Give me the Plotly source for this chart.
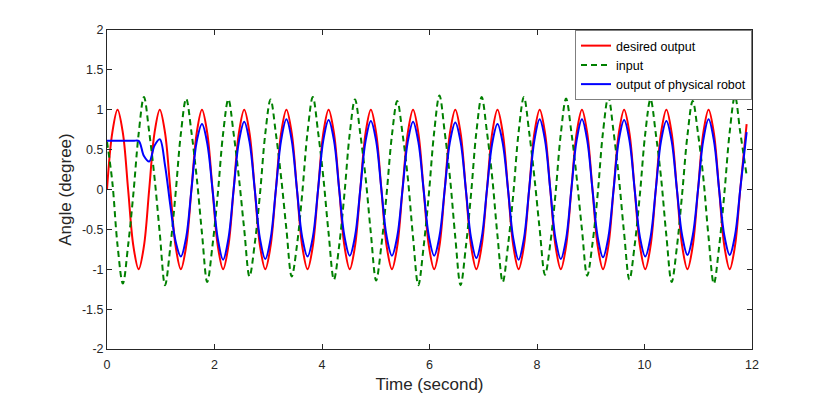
import plotly.graph_objects as go

# sample times (s)
t = [0, 0.098, 0.196, 0.295, 0.393, 0.491, 0.589, 0.687, 0.785, 0.884,
     0.982, 1.080, 1.178, 1.276, 1.374, 1.473, 1.571, 1.669, 1.767, 1.865,
     1.963, 2.062, 2.160, 2.258, 2.356, 2.454, 2.553, 2.651, 2.749, 2.847,
     2.945, 3.043, 3.142, 3.240, 3.338, 3.436, 3.534, 3.632, 3.731, 3.829,
     3.927, 4.025, 4.123, 4.222, 4.320, 4.418, 4.516, 4.614, 4.712, 4.811,
     4.909, 5.007, 5.105, 5.203, 5.301, 5.400, 5.498, 5.596, 5.694, 5.792,
     5.890, 5.989, 6.087, 6.185, 6.283, 6.381, 6.480, 6.578, 6.676, 6.774,
     6.872, 6.970, 7.069, 7.167, 7.265, 7.363, 7.461, 7.560, 7.658, 7.756,
     7.854, 7.952, 8.050, 8.149, 8.247, 8.345, 8.443, 8.541, 8.639, 8.738,
     8.836, 8.934, 9.032, 9.130, 9.228, 9.327, 9.425, 9.523, 9.621, 9.719,
     9.817, 9.916, 10.014, 10.112, 10.210, 10.308, 10.407, 10.505, 10.603, 10.701,
     10.799, 10.897, 10.996, 11.094, 11.192, 11.290, 11.388, 11.486, 11.585, 11.683,
     11.781, 11.900]

desired = [0, 0.71, 1, 0.71, 0, -0.71, -1, -0.71, 0, 0.71, 1, 0.71, 0, -0.71, -1, -0.71,
           0, 0.71, 1, 0.71, 0, -0.71, -1, -0.71, 0, 0.71, 1, 0.71, 0, -0.71, -1, -0.71,
           0, 0.71, 1, 0.71, 0, -0.71, -1, -0.71, 0, 0.71, 1, 0.71, 0, -0.71, -1, -0.71,
           0, 0.71, 1, 0.71, 0, -0.71, -1, -0.71, 0, 0.71, 1, 0.71, 0, -0.71, -1, -0.71,
           0, 0.71, 1, 0.71, 0, -0.71, -1, -0.71, 0, 0.71, 1, 0.71, 0, -0.71, -1, -0.71,
           0, 0.71, 1, 0.71, 0, -0.71, -1, -0.71, 0, 0.71, 1, 0.71, 0, -0.71, -1, -0.71,
           0, 0.71, 1, 0.71, 0, -0.71, -1, -0.71, 0, 0.71, 1, 0.71, 0, -0.71, -1, -0.71,
           0, 0.71, 1, 0.71, 0, -0.71, -1, -0.71, 0, 0.82]

inp = [0.6, 0.1, -0.7, -1.18, -0.7, -0.05, 0.7, 1.16,
       0.72, 0.15, -0.55, -1.2, -0.72, -0.05, 0.7, 1.14,
       0.72, 0.15, -0.55, -1.16, -0.7, -0.05, 0.7, 1.13,
       0.7, 0.15, -0.5, -1.09, -0.68, -0.05, 0.7, 1.13,
       0.7, 0.15, -0.5, -1.09, -0.7, -0.05, 0.72, 1.16,
       0.72, 0.15, -0.55, -1.13, -0.7, -0.05, 0.7, 1.13,
       0.7, 0.15, -0.55, -1.14, -0.7, -0.05, 0.68, 1.11,
       0.7, 0.15, -0.6, -1.2, -0.72, -0.05, 0.72, 1.18,
       0.72, 0.15, -0.6, -1.2, -0.72, -0.05, 0.72, 1.16,
       0.72, 0.15, -0.58, -1.16, -0.7, -0.05, 0.72, 1.16,
       0.72, 0.15, -0.5, -1.07, -0.68, -0.05, 0.7, 1.14,
       0.72, 0.15, -0.5, -1.08, -0.68, -0.05, 0.72, 1.16,
       0.72, 0.15, -0.55, -1.13, -0.7, -0.05, 0.7, 1.13,
       0.7, 0.15, -0.58, -1.16, -0.72, -0.05, 0.68, 1.11,
       0.7, 0.15, -0.6, -1.18, -0.72, -0.05, 0.72, 1.17,
       0.72, 0.18]

robot = [0.61, 0.61, 0.61, 0.61, 0.61, 0.61, 0.61, 0.42,
         0.35, 0.55, 0.63, 0.3, -0.2, -0.65, -0.84, -0.6,
         0, 0.6, 0.82, 0.58, 0, -0.62, -0.88, -0.62,
         0, 0.6, 0.85, 0.6, 0, -0.62, -0.87, -0.62,
         0, 0.62, 0.88, 0.62, 0, -0.6, -0.84, -0.6,
         0, 0.62, 0.87, 0.62, 0, -0.59, -0.83, -0.59,
         0, 0.61, 0.86, 0.61, 0, -0.59, -0.83, -0.59,
         0, 0.6, 0.85, 0.6, 0, -0.59, -0.83, -0.59,
         0, 0.6, 0.84, 0.6, 0, -0.61, -0.86, -0.61,
         0, 0.58, 0.82, 0.58, 0, -0.62, -0.88, -0.62,
         0, 0.62, 0.88, 0.62, 0, -0.62, -0.87, -0.62,
         0, 0.62, 0.88, 0.62, 0, -0.6, -0.85, -0.6,
         0, 0.62, 0.87, 0.62, 0, -0.6, -0.84, -0.6,
         0, 0.61, 0.86, 0.61, 0, -0.58, -0.82, -0.58,
         0, 0.62, 0.88, 0.62, 0, -0.58, -0.82, -0.58,
         0, 0.72]

y_ticks = [-2, -1.5, -1, -0.5, 0, 0.5, 1, 1.5, 2]
y_labels = ['-2', '-1.5', '-1', '-0.5', '0', '0.5', '1', '1.5', '2']
x_ticks = [0, 2, 4, 6, 8, 10, 12]

fig = go.Figure()
fig.add_trace(go.Scatter(x=t, y=desired, name='desired output', mode='lines',
                         line=dict(color='#ff0000', width=2, shape='spline', smoothing=1)))
fig.add_trace(go.Scatter(x=t, y=inp, name='input', mode='lines',
                         line=dict(color='#008000', width=2, dash='6px,4px',
                                   shape='spline', smoothing=1)))
fig.add_trace(go.Scatter(x=t, y=robot, name='output of physical robot', mode='lines',
                         line=dict(color='#0000ff', width=2, shape='spline', smoothing=1)))

axis_common = dict(showline=True, linecolor='#262626', linewidth=1, mirror='ticks',
                   ticks='inside', ticklen=5, tickcolor='#262626', showgrid=False,
                   zeroline=False, tickfont=dict(size=12.5, color='#262626'))

fig.update_xaxes(range=[0, 12], tickvals=x_ticks, ticklabelstandoff=4,
                 title=dict(text='Time (second)', font=dict(size=17, color='#262626'),
                            standoff=8),
                 **axis_common)
fig.update_yaxes(range=[-2, 2], tickvals=y_ticks, ticktext=y_labels,
                 title=dict(text='Angle (degree)', font=dict(size=17, color='#262626'),
                            standoff=6),
                 **axis_common)

# page body adds 8px, so the figure is 8px smaller than the window
fig.update_layout(
    width=822, height=386,
    margin=dict(l=99, r=78, t=22, b=45, autoexpand=False),
    paper_bgcolor='white', plot_bgcolor='white',
    font=dict(family='Liberation Sans, Arial, sans-serif', color='#262626'),
    legend=dict(x=1, y=1, xanchor='right', yanchor='top', bgcolor='white',
                bordercolor='#7f7f7f', borderwidth=1, font=dict(size=12.5, color='#000000'),
                tracegroupgap=0, itemwidth=30),
    showlegend=True,
)

fig.write_html("out.html")
